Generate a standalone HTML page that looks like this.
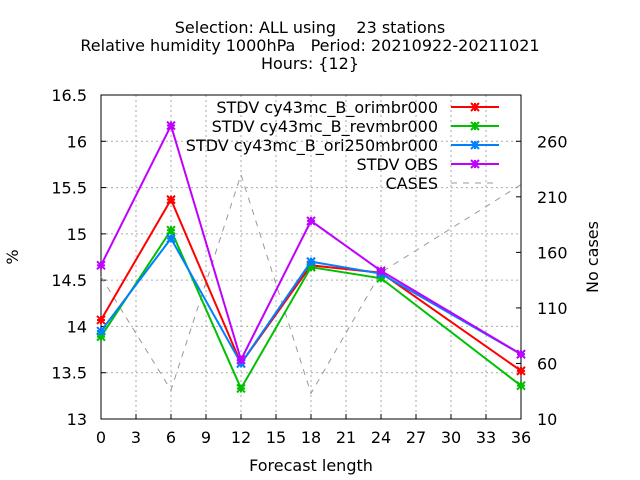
<!DOCTYPE html>
<html><head><meta charset="utf-8"><style>
body{margin:0;background:#fff;}
svg{display:block;font-family:"DejaVu Sans","Liberation Sans",sans-serif;}
text{white-space:pre;}
</style></head><body>
<svg id="c" width="640" height="480">
<g font-size="16" text-anchor="middle" fill="#000">
<text x="310" y="33" xml:space="preserve">Selection: ALL using    23 stations</text>
<text x="310" y="51" xml:space="preserve">Relative humidity 1000hPa   Period: 20210922-20211021</text>
<text x="310" y="69">Hours: {12}</text>
</g>
<g id="grid"></g>
<g id="axes"></g>
<g id="series"></g>
<g id="legend"></g>
<text x="18" y="257" font-size="16" text-anchor="middle" transform="rotate(-90 18 257)">%</text>
<text x="598" y="257" font-size="16" text-anchor="middle" transform="rotate(-90 598 257)">No cases</text>
<text x="311" y="471" font-size="16" text-anchor="middle">Forecast length</text>
</svg>
<script>
const xs=[0,6,12,18,24,36];
const red=[14.07,15.37,13.6,14.66,14.58,13.52];
const green=[13.89,15.04,13.33,14.64,14.52,13.36];
const blue=[13.95,14.95,13.6,14.7,14.57,13.7];
const purple=[14.66,16.17,13.64,15.14,14.6,13.7];
const cases=[138,36,230,33,142,221];
const xTicks=[0,3,6,9,12,15,18,21,24,27,30,33,36];
const yTicks=[13,13.5,14,14.5,15,15.5,16,16.5];
const y2Ticks=[10,60,110,160,210,260];
const names=["STDV cy43mc_B_orimbr000","STDV cy43mc_B_revmbr000","STDV cy43mc_B_ori250mbr000","STDV OBS"];
const L=101,R=521,T=95,B=419;
const X=v=>L+(v-0)/36*(R-L);
const Y=v=>B-(v-13)/3.5*(B-T);
const Y2=v=>B-(v-10)/(250/3)/3.5*(B-T);
const NS="http://www.w3.org/2000/svg";
function mk(p,t,a){const e=document.createElementNS(NS,t);for(const k in a)e.setAttribute(k,a[k]);p.appendChild(e);return e;}
const g=document.getElementById('grid'),ax=document.getElementById('axes'),s=document.getElementById('series'),lg=document.getElementById('legend');
xTicks.forEach(v=>{
 if(v>0&&v<36){const l=mk(g,'line',{x1:X(v),x2:X(v),y1:T,y2:B,stroke:'#aaa','stroke-dasharray':'2,3'});
 
 }
 const t=mk(ax,'text',{x:X(v),y:B+24,'font-size':16,'text-anchor':'middle'});t.textContent=v;
 
 
 mk(ax,'line',{x1:X(v),x2:X(v),y1:B,y2:B-5,stroke:'#000'});
});
yTicks.forEach(v=>{
 if(v>13&&v<16.5){const l=mk(g,'line',{x1:L,x2:R,y1:Y(v),y2:Y(v),stroke:'#aaa','stroke-dasharray':'2,3'});
 
 }
 const t=mk(ax,'text',{x:L-14,y:Y(v)+6,'font-size':16,'text-anchor':'end'});t.textContent=v;
 
 
 mk(ax,'line',{x1:L,x2:L+5,y1:Y(v),y2:Y(v),stroke:'#000'});
});
y2Ticks.forEach(v=>{
 const t=mk(ax,'text',{x:R+16,y:Y2(v)+6,'font-size':16,'text-anchor':'start'});t.textContent=v;
 
 
 mk(ax,'line',{x1:R,x2:R-5,y1:Y2(v),y2:Y2(v),stroke:'#000'});
});
mk(ax,'rect',{x:L,y:T,width:R-L,height:B-T,fill:'none',stroke:'#000'});
const cp=mk(s,'polyline',{points:xs.map((x,i)=>X(x)+','+Y2(cases[i])).join(' '),fill:'none',stroke:'#999','stroke-dasharray':'6,6'});


function star(p,x,y,c){mk(p,'path',{d:`M${x-4} ${y-4}L${x+4} ${y+4}M${x-4} ${y+4}L${x+4} ${y-4}M${x-4} ${y}H${x+4}M${x} ${y-4}V${y+4}`,stroke:c,'stroke-width':2});}
const data=[red,green,blue,purple],cols=['#ff0000','#00c000','#0080ff','#c000ff'];
data.forEach((d,k)=>{
 const pl=mk(s,'polyline',{points:xs.map((x,i)=>X(x)+','+Y(d[i])).join(' '),fill:'none',stroke:cols[k],'stroke-width':2});
 
 
 xs.forEach((x,i)=>star(s,X(x),Y(d[i]),cols[k]));
});
names.concat(['CASES']).forEach((n,k)=>{
 const y=107+k*19;
 const t=mk(lg,'text',{x:438,y:y+6,'font-size':16,'text-anchor':'end'});t.textContent=n;
 
 
 if(k<4){mk(lg,'line',{x1:451,x2:499,y1:y,y2:y,stroke:cols[k],'stroke-width':2});star(lg,475,y,cols[k]);}
 else mk(lg,'line',{x1:451,x2:499,y1:y,y2:y,stroke:'#999','stroke-dasharray':'6,6'});
});
</script>
</body></html>
